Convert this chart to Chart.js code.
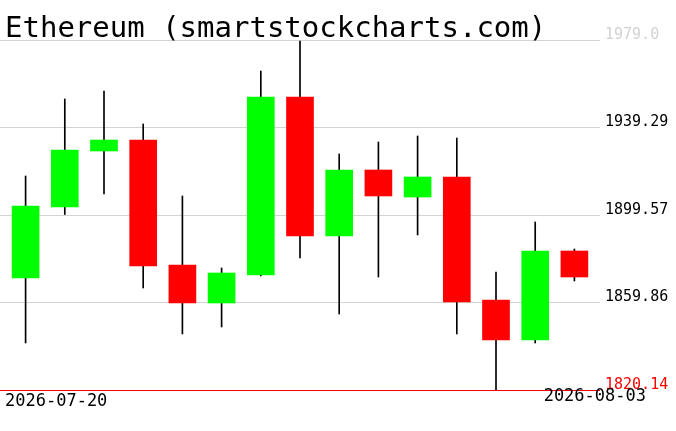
<!DOCTYPE html>
<html><head><meta charset="utf-8">
<script src="https://cdn.jsdelivr.net/npm/chart.js@4/dist/chart.umd.min.js"></script>
<style>html,body{margin:0;padding:0;background:#fff}canvas{display:block}</style>
</head><body>
<canvas id="c" width="676" height="431"></canvas>
<script>
const chartTitle = 'Ethereum (smartstockcharts.com)';
const dates = ['2026-07-20','2026-07-21','2026-07-22','2026-07-23','2026-07-24','2026-07-25','2026-07-26','2026-07-27','2026-07-28','2026-07-29','2026-07-30','2026-07-31','2026-08-01','2026-08-02','2026-08-03'];
const opens  = [1870.98, 1903.20, 1928.62, 1933.61, 1876.88, 1859.63, 1872.34, 1953.13, 1890.04, 1920.00, 1907.74, 1916.82, 1861.00, 1842.84, 1883.23];
const highs  = [1917.27, 1952.22, 1955.85, 1940.88, 1908.20, 1875.52, 1964.93, 1978.55, 1927.26, 1932.71, 1935.43, 1934.52, 1873.70, 1896.40, 1884.14];
const lows   = [1841.48, 1899.80, 1909.10, 1866.44, 1845.56, 1848.74, 1871.89, 1880.06, 1854.64, 1871.43, 1890.50, 1845.56, 1820.14, 1841.48, 1869.62];
const closes = [1903.66, 1929.07, 1933.61, 1876.43, 1859.63, 1873.25, 1953.13, 1890.04, 1920.00, 1908.20, 1916.82, 1860.09, 1842.84, 1883.23, 1871.43];
const yTicks = [1820.14, 1859.86, 1899.57, 1939.29, 1979.0];
const yTickLabels = ['1820.14', '1859.86', '1899.57', '1939.29', '1979.0'];
const xTickLabels = ['2026-07-20', '2026-08-03'];

const bodies = dates.map((d, i) => ({x: i, y: [opens[i], closes[i]]}));
const wicks = dates.map((d, i) => ({x: i, y: [lows[i], highs[i]]}));
const bodyColors = dates.map((d, i) => closes[i] >= opens[i] ? '#00ff00' : '#ff0000');

const textPlugin = {
  id: 'texts',
  afterDraw(chart) {
    const ctx = chart.ctx;
    const a = chart.chartArea;
    ctx.save();
    ctx.fillStyle = '#000';
    ctx.textBaseline = 'alphabetic';
    ctx.textAlign = 'left';
    ctx.font = '29px "DejaVu Sans Mono"';
    ctx.fillText(chartTitle, a.left + 5, 37);
    ctx.font = '17px "DejaVu Sans Mono"';
    ctx.fillText(xTickLabels[0], a.left + 5, a.bottom + 16);
    ctx.textAlign = 'right';
    ctx.fillText(xTickLabels[1], a.right + 46, a.bottom + 11);
    ctx.restore();
  }
};

new Chart(document.getElementById('c'), {
  type: 'bar',
  data: {
    datasets: [
      {label: 'body', data: bodies, backgroundColor: bodyColors, borderWidth: 0, barThickness: 27, grouped: false, order: 0},
      {label: 'wick', data: wicks, backgroundColor: '#000', borderWidth: 0, barThickness: 1, grouped: false, order: 1}
    ]
  },
  options: {
    responsive: false,
    animation: false,
    devicePixelRatio: 1,
    layout: {padding: {top: 40, bottom: 41, left: 0, right: 0}},
    plugins: {legend: {display: false}, tooltip: {enabled: false}, title: {display: false}},
    scales: {
      x: {type: 'linear', display: false, min: -0.653, max: 14.653, offset: false},
      y: {
        type: 'linear', position: 'right', min: yTicks[0], max: yTicks[yTicks.length - 1], z: 1,
        afterBuildTicks: s => { s.ticks = yTicks.map(v => ({value: v})); },
        afterFit: s => { s.width = 76; },
        border: {display: false},
        grid: {color: c => c.index === 0 ? '#ff0000' : '#d3d3d3', lineWidth: 1, drawTicks: false},
        ticks: {
          padding: 5, labelOffset: -5,
          font: {family: 'DejaVu Sans Mono', size: 15},
          color: c => c.index === 0 ? '#ff0000' : (c.index === yTicks.length - 1 ? '#d3d3d3' : '#000'),
          callback: (v, i) => yTickLabels[i]
        }
      }
    }
  },
  plugins: [textPlugin]
});
</script>
</body></html>
